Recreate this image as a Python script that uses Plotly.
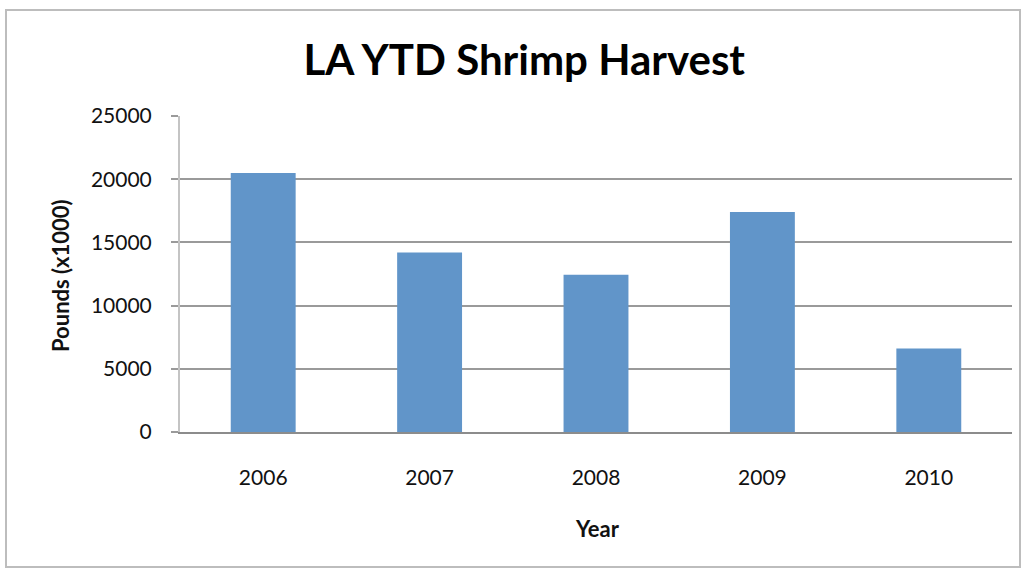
import plotly.graph_objects as go

years = ["2006", "2007", "2008", "2009", "2010"]
pounds_k = [20500, 14200, 12450, 17400, 6600]
y_ticks = [0, 5000, 10000, 15000, 20000, 25000]

W, H = 1028, 572
L, R, T, B = 180, 16, 116, 140
pw, ph = W - L - R, H - T - B

def px_x(px):
    return (px - L) / pw

def px_y(py):
    return (H - B - py) / ph

font_family = "Lato, 'Open Sans', sans-serif"

fig = go.Figure(
    go.Bar(
        x=years,
        y=pounds_k,
        marker=dict(color="#6195C9", line=dict(width=0)),
        width=0.39,
    )
)

fig.update_layout(
    width=W,
    height=H,
    margin=dict(l=L, r=R, t=T, b=B),
    paper_bgcolor="white",
    plot_bgcolor="white",
    showlegend=False,
    font=dict(family=font_family, color="#111111", size=21),
    title=dict(
        text="<b>LA YTD Shrimp Harvest</b>",
        x=0.51,
        xanchor="center",
        y=1 - 60 / H,
        yanchor="middle",
        font=dict(size=42, color="#000000", family=font_family),
    ),
    xaxis=dict(
        type="category",
        showgrid=False,
        showline=True,
        linecolor="#8c8c8c",
        linewidth=2,
        ticks="",
        ticklabelstandoff=26,
        tickfont=dict(size=21),
    ),
    yaxis=dict(
        range=[0, 25000],
        tickvals=y_ticks,
        ticktext=[str(v) for v in y_ticks],
        showgrid=True,
        gridcolor="#9a9a9a",
        gridwidth=2,
        zeroline=False,
        showline=True,
        linecolor="#c4c4c4",
        linewidth=2,
        ticks="outside",
        ticklen=7,
        tickwidth=2,
        tickcolor="#9a9a9a",
        ticklabelstandoff=15,
        tickfont=dict(size=21),
    ),
    annotations=[
        dict(
            text="<b>Year</b>", xref="paper", yref="paper",
            x=px_x(597), y=px_y(528), xanchor="center", yanchor="middle",
            showarrow=False, font=dict(size=22),
        ),
        dict(
            text="<b>Pounds (x1000)</b>", xref="paper", yref="paper",
            x=px_x(60), y=px_y(276), xanchor="center", yanchor="middle",
            textangle=-90, showarrow=False, font=dict(size=22),
        ),
    ],
    shapes=[
        dict(
            type="rect", xref="paper", yref="paper",
            x0=px_x(6), x1=px_x(1020), y0=px_y(567), y1=px_y(10),
            line=dict(color="#bdbdbd", width=2), layer="below",
        )
    ],
)

fig.write_html("out.html")
